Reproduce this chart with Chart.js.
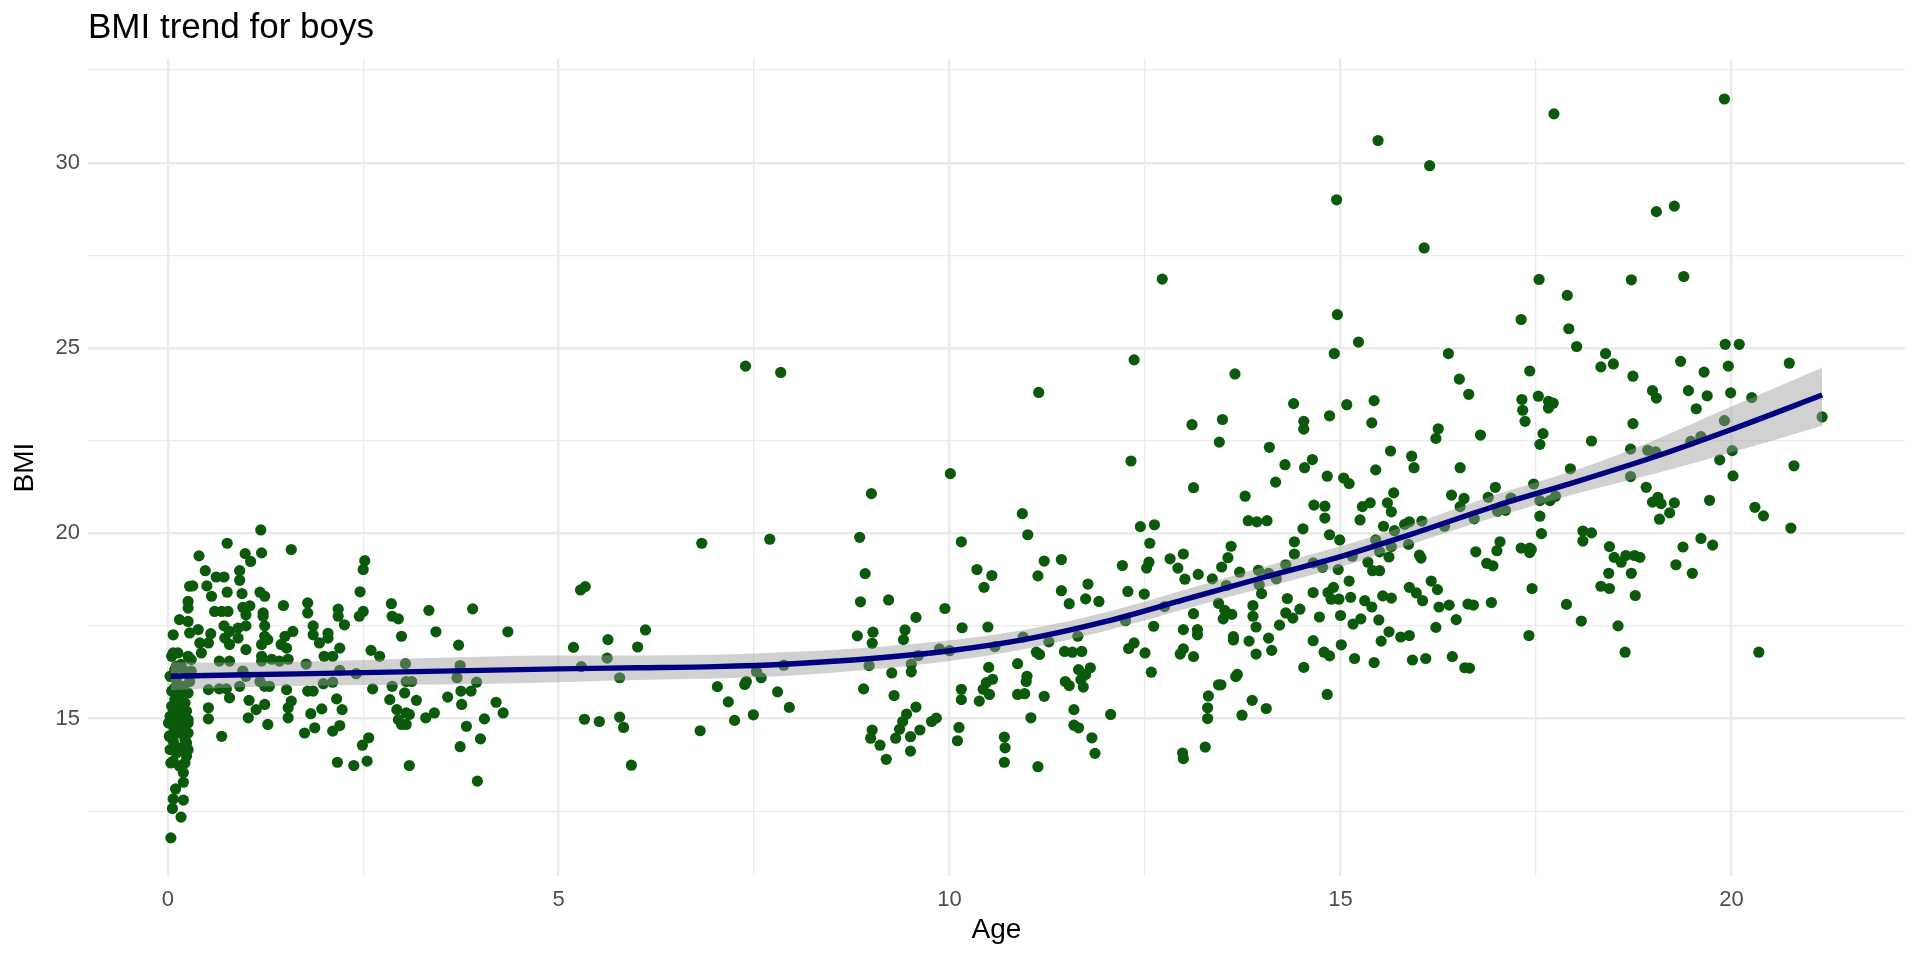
<!DOCTYPE html>
<html>
<head>
<meta charset="utf-8">
<title>BMI trend for boys</title>
<script src="https://cdn.jsdelivr.net/npm/chart.js@4.4.1/dist/chart.umd.min.js"></script>
<style>
  html, body { margin: 0; padding: 0; background: #ffffff; }
  #chart { display: block; }
</style>
</head>
<body>
<canvas id="chart" width="1920" height="960"></canvas>
<script>
// Tick positions (major every 5 / minor every 2.5)
const xTicks = [0, 2.5, 5, 7.5, 10, 12.5, 15, 17.5, 20];
const yTicks = [12.5, 15, 17.5, 20, 22.5, 25, 27.5, 30, 32.5];

const pointsInfants = [
  [0.04,11.78],[0.17,12.34],[0.06,12.57],[0.2,12.80],[0.07,12.83],[0.10,13.10],[0.2,13.28],[0.2,13.54],[0.15,13.72],
  [0.07,13.85],[0.24,13.98],[0.11,14.07],[0.03,14.16],[0.17,14.21],[0.24,14.34],[0.07,14.39],[0.03,14.54],[0.26,14.61],
  [0.13,14.61],[0.07,14.79],[0.26,14.88],[0.17,14.84],[0.03,15.06],[0.09,15.15],[0.2,15.11],[0.26,14.97],[0.05,15.33],
  [0.15,15.29],[0.22,15.42],[0.09,15.51],[0.15,15.65],[0.26,15.69],[0.09,15.83],[0.2,15.87],[0.28,16.0],[0.11,16.05],
  [0.09,16.32],[0.22,16.28],[0.11,16.41],[0.26,16.68],[0.13,16.77],[0.30,16.59],[0.07,17.26],[0.15,17.67],[0.26,17.62],
  [0.26,18.16],[0.26,17.98],[0.28,18.57],[0.02,14.52],[0.22,14.43],[0.11,15.06],[0.24,15.2],[0.04,13.8],[0.22,13.8],
  [0.01,14.88],[0.13,14.79],[0.2,14.66],[0.09,14.25],[0.26,14.16],[0.05,15.74],[0.03,16.14],[0.17,16.46],[0.05,16.68],
  [0.07,16.77],[0.32,18.58],[0.30,16.28],[0.28,17.31],[0.39,17.40]
];

const pointsToddlers = [
  [1.19,20.09],[0.76,19.73],[0.40,19.39],[0.99,19.45],[1.20,19.47],[1.06,19.24],[1.58,19.56],
  [0.48,18.99],[0.92,18.99],[0.62,18.82],[0.72,18.82],[0.92,18.73],[0.50,18.58],
  [0.76,18.41],[0.56,18.30],[0.95,18.37],[1.18,18.41],[1.24,18.30],[1.48,18.05],[1.79,18.12],
  [2.52,19.26],[2.50,19.02],[2.46,18.42],[2.86,18.10],[3.34,17.92],[3.90,17.96],
  [0.60,17.89],[0.69,17.89],[0.77,17.89],[0.96,18.0],[1.05,18.04],[1.0,17.8],[1.22,17.85],[1.22,17.76],
  [1.79,17.85],[2.18,17.95],[2.18,17.76],[2.26,17.53],[2.45,17.76],[2.5,17.89],[2.87,17.76],[2.95,17.69],
  [0.55,17.29],[0.72,17.5],[0.79,17.35],[0.9,17.44],[1.0,17.5],[1.24,17.5],[1.24,17.22],
  [1.86,17.5],[1.86,17.26],[1.60,17.35],[1.50,17.22],[2.05,17.3],[2.05,17.17],[2.99,17.22],[3.43,17.34],[4.35,17.34],
  [0.41,17.04],[0.52,17.04],[0.73,17.17],[0.79,17.0],[0.9,17.17],[1.0,16.86],[1.2,17.0],[1.28,17.13],[1.45,17.0],[1.52,16.9],
  [1.94,17.04],[2.2,16.9],[2.6,16.84],[2.71,16.68],[3.72,16.98],
  [0.43,16.77],[0.66,16.55],[0.79,16.55],[1.2,16.68],[1.2,16.55],[1.33,16.6],[1.43,16.55],[1.54,16.6],[1.77,16.47],
  [2.0,16.68],[2.11,16.68],[2.2,16.3],[2.41,16.21],[3.04,16.48],[3.74,16.43],[3.70,16.1],
  [0.96,16.28],[1.0,16.14],
  [0.52,15.78],[0.66,15.8],[0.75,15.8],[0.79,15.56],[0.92,15.87],[1.18,16.0],[1.24,15.87],[1.3,15.87],[1.52,15.78],
  [1.79,15.74],[1.86,15.74],[1.99,15.94],[2.11,15.98],[2.62,15.8],[2.87,15.87],[3.05,16.0],[3.12,16.0],[3.03,15.69],
  [3.95,15.98],[3.75,15.74],[3.88,15.74],[3.58,15.58],[4.2,15.44],[4.29,15.15],
  [0.52,15.29],[0.52,14.99],[1.04,15.49],[1.13,15.24],[1.24,15.38],[1.03,15.02],[1.28,14.84],
  [1.54,15.29],[1.58,15.47],[1.54,15.02],[1.83,15.13],[1.97,15.26],[2.16,15.53],[2.23,15.24],
  [1.75,14.61],[1.88,14.75],[2.11,14.66],[2.2,14.81],
  [2.84,15.51],[2.93,15.24],[3.05,15.15],[2.99,14.84],[3.05,14.84],[3.18,15.49],[3.09,15.11],[2.95,14.97],
  [3.3,15.02],[3.41,15.15],[3.76,15.38],[3.82,14.79],[4.05,14.99],[4.0,14.45],[3.74,14.24],[0.69,14.52],
  [2.17,13.82],[2.38,13.73],[2.55,13.85],[2.49,14.28],[2.57,14.48],[3.09,13.73],[3.96,13.31]
];

const pointsChildren = [
  [7.39,24.51],[7.84,24.34],[10.01,21.61],[9.0,21.07],[6.83,19.73],[7.70,19.84],[8.85,19.89],[10.15,19.77],
  [10.35,19.02],[10.54,18.86],[10.44,18.54],[8.92,18.91],[8.86,18.15],[9.22,18.2],[9.94,17.97],[9.57,17.73],[10.49,17.47],[10.16,17.45],
  [9.02,17.33],[9.01,17.03],[8.82,17.23],[9.43,17.39],[9.41,17.13],
  [5.28,18.47],[5.34,18.56],[5.19,16.92],[5.63,17.13],[6.11,17.39],[6.01,16.93],[5.62,16.63],[5.29,16.40],[5.78,16.10],
  [7.88,16.44],[8.97,16.43],[9.26,16.23],[9.51,16.26],[9.6,16.7],[9.51,16.47],[9.87,16.88],[10.0,16.83],[10.58,16.94],[10.5,16.38],
  [7.4,16.0],[7.38,15.92],[7.59,16.1],[7.53,16.27],[7.03,15.86],[7.17,15.45],[7.8,15.72],[7.95,15.3],[7.49,15.1],[7.25,14.95],[6.81,14.67],
  [8.9,15.8],[9.29,15.62],[9.57,15.31],[9.45,15.12],[9.4,14.92],[9.36,14.71],[9.31,14.47],[9.5,14.51],[9.5,14.12],[9.62,14.69],
  [9.77,14.92],[9.83,15.01],[9.01,14.69],[8.99,14.47],[9.11,14.28],[9.19,13.90],
  [10.15,15.79],[10.15,15.51],[10.38,15.47],[10.51,15.65],[10.43,15.79],[10.47,15.97],[10.55,16.06],[10.12,14.76],[10.1,14.4],
  [5.33,14.98],[5.52,14.92],[5.78,15.04],[5.83,14.76],[5.93,13.74]
];

const pointsPreteens = [
  [12.36,24.68],[11.14,23.8],[12.32,21.95],[10.93,20.53],[11.0,19.96],[12.44,20.18],[12.62,20.23],[12.56,19.73],[12.55,19.22],[12.52,19.06],
  [12.21,19.13],[11.21,19.25],[11.43,19.29],[11.13,18.85],[11.43,18.45],[11.53,18.1],[11.77,18.63],[11.74,18.23],[11.91,18.16],
  [12.28,18.43],[12.49,18.36],[12.61,17.49],[12.25,17.64],[10.94,17.2],[11.27,17.07],[11.64,17.22],[11.11,16.79],[11.15,16.73],
  [11.47,16.81],[11.57,16.79],[11.69,16.81],[12.29,16.89],[12.36,17.04],[12.5,16.77],[12.58,16.25],
  [10.87,16.48],[10.99,16.14],[10.98,16.0],[10.87,15.65],[10.96,15.67],[11.21,15.6],[11.04,15.02],
  [11.48,16.0],[11.53,15.89],[11.65,16.32],[11.74,16.19],[11.8,16.37],[11.68,16.05],[11.71,15.85],
  [11.59,15.24],[11.59,14.82],[11.65,14.75],[11.82,14.48],[11.86,14.06],[12.06,15.11],
  [10.7,14.5],[10.71,14.21],[10.7,13.82],[11.13,13.7],[12.72,26.86]
];

const pointsEarlyTeens = [
  [14.96,25.9],[14.92,24.85],[13.65,24.3],[14.4,23.5],[13.1,22.93],[13.49,23.07],[13.45,22.46],[14.53,23.02],[14.53,22.81],[14.86,23.17],
  [14.09,22.32],[14.29,21.85],[14.54,21.77],[14.64,21.99],[14.17,21.38],[14.83,21.54],[13.12,21.23],[13.78,21.0],
  [13.82,20.34],[13.93,20.31],[14.06,20.34],[14.66,20.76],[14.8,20.73],[14.8,20.41],[14.52,20.12],
  [12.82,19.31],[12.99,19.44],[12.92,19.06],[13.01,18.76],[13.18,18.89],[13.36,18.77],[13.48,19.09],[13.56,19.34],[13.6,19.65],
  [13.71,18.95],[13.95,19.0],[14.08,18.92],[14.41,19.77],[14.41,19.44],[14.3,19.15],[14.18,18.77],[14.65,19.2],
  [13.54,18.59],[13.96,18.61],[13.99,18.37],[12.75,18.02],[13.12,17.83],[13.44,18.11],[13.52,17.92],[13.5,17.69],[13.61,17.81],
  [13.88,18.05],[13.88,17.76],[13.92,17.47],[14.32,18.24],[14.3,17.85],[14.39,17.71],[14.48,17.95],[14.22,17.52],[14.65,18.4],
  [12.99,17.4],[13.17,17.4],[13.17,17.26],[13.12,16.67],[12.95,16.74],[12.99,16.88],[13.63,17.21],[13.63,17.12],[13.83,17.09],
  [13.92,16.74],[14.08,17.17],[14.12,16.84],[14.65,17.1],[14.53,16.38],[13.66,16.13],[13.68,16.19],[13.47,15.91],[13.44,15.91],
  [13.31,15.61],[13.3,15.29],[13.3,15.0],[13.74,15.09],[13.87,15.49],[14.05,15.27],[14.83,15.65],[13.27,14.23],[12.98,14.07],[12.99,13.92]
];

const pointsMidTeens = [
  [15.23,25.16],[16.38,24.85],[16.52,24.16],[16.64,23.75],[15.08,23.47],[15.43,23.58],[15.4,22.98],[16.25,22.82],[16.22,22.56],
  [15.64,22.22],[15.91,22.08],[15.94,21.77],[16.53,21.77],[15.45,21.71],[15.04,21.49],[15.11,21.34],[15.68,21.09],
  [16.42,21.03],[16.58,20.94],[16.53,20.72],[15.28,20.72],[15.38,20.82],[15.25,20.36],[15.6,20.82],[15.65,20.58],
  [14.86,19.96],[14.99,19.82],[15.55,20.19],[15.69,20.07],[15.82,20.24],[15.88,20.31],[16.04,20.33],[16.33,20.19],
  [15.45,19.82],[15.65,19.64],[15.87,19.7],[15.5,19.5],[15.62,19.36],[16.01,19.41],[16.03,19.33],[15.15,19.38],
  [15.35,19.22],[15.41,18.99],[15.5,18.99],[14.77,19.08],[14.97,19.02],[15.11,18.71],[16.16,18.71],[16.24,18.48],
  [15.88,18.54],[15.97,18.39],[16.05,18.18],[14.91,18.54],[14.84,18.4],[14.88,18.22],[14.98,18.22],[15.13,18.27],
  [15.31,18.18],[15.4,18.01],[15.54,18.31],[15.65,18.25],[16.26,18.01],[16.39,18.06],[16.63,18.09],
  [14.73,17.74],[15.0,17.78],[15.16,17.55],[15.26,17.69],[15.49,17.66],[16.48,17.67],[16.22,17.46],[15.62,17.34],[15.52,17.09],
  [15.77,17.2],[15.88,17.24],[15.01,16.99],[14.79,16.79],[14.86,16.69],[15.18,16.62],[15.43,16.51],[15.92,16.58],[16.09,16.62],
  [16.43,16.67],[16.59,16.37],
  [15.48,30.6],[14.95,29.0],[16.14,29.92],[16.07,27.7]
];

const pointsLateTeens = [
  [17.73,31.32],[17.54,26.85],[17.9,26.42],[17.31,25.77],[17.92,25.52],[18.02,25.04],[17.42,24.38],
  [18.39,24.85],[18.33,24.49],[18.49,24.57],
  [17.32,23.61],[17.33,23.32],[17.36,23.02],[17.53,23.7],[17.66,23.56],[17.72,23.51],[17.66,23.38],
  [16.79,22.65],[17.59,22.69],[17.55,22.4],[18.21,22.49],[17.94,21.74],[16.98,21.24],[16.89,20.97],[17.47,21.33],[17.18,20.95],
  [16.71,20.39],[17.01,20.59],[17.11,20.62],[17.55,20.88],[17.68,20.88],[17.75,21.0],[17.55,20.46],[17.57,19.99],
  [18.1,20.06],[18.21,20.01],[18.1,19.79],[16.73,19.5],[17.04,19.77],[17.0,19.53],[17.31,19.6],[17.42,19.6],[17.42,19.48],[17.44,19.56],
  [16.87,19.19],[16.95,19.12],[18.44,19.64],[18.43,18.92],[18.33,18.57],[18.44,18.51],[17.45,18.51],[16.93,18.13],[16.7,18.06],
  [17.89,18.08],[18.08,17.63],[17.41,17.24],[18.55,17.5],[16.65,16.36]
];

const pointsAdults = [
  [19.91,31.72],[19.04,28.68],[19.27,28.83],[18.72,26.84],[19.39,26.93],[19.92,25.1],[20.1,25.1],[19.35,24.64],[20.74,24.59],[19.96,24.51],
  [18.74,24.24],[19.65,24.35],[18.99,23.85],[19.04,23.65],[19.45,23.85],[19.69,23.71],[19.99,23.79],[19.55,23.36],[20.26,23.66],
  [18.74,22.96],[21.16,23.14],[19.91,23.04],[18.71,22.27],[18.93,22.24],[19.03,22.2],[19.48,22.48],[19.61,22.61],[19.85,21.98],
  [20.01,22.23],[20.02,21.55],[20.8,21.82],[18.71,21.53],[18.91,21.24],[18.99,20.84],[19.06,20.97],[19.1,20.8],[19.27,20.82],
  [19.21,20.55],[19.08,20.38],[19.72,20.89],[20.3,20.7],[20.41,20.47],[20.76,20.14],[18.5,19.35],[18.59,19.22],[18.65,19.4],
  [18.76,19.4],[18.83,19.35],[18.72,18.92],[18.77,18.32],[19.38,19.63],[19.29,19.15],[19.5,18.92],[19.61,19.86],[19.76,19.68],
  [18.64,16.79],[20.35,16.79]
];

// Smoothed trend (loess) and its confidence band
const smoothAge   = [0.04, 1, 2, 3, 4, 5, 6, 7, 8, 9, 10, 11, 12, 13, 14, 15, 16, 17, 18, 19, 20, 21.16];
const smoothBmi   = [16.14, 16.18, 16.22, 16.26, 16.30, 16.34, 16.37, 16.40, 16.48, 16.62, 16.83, 17.15, 17.62, 18.21, 18.80, 19.37, 20.04, 20.75, 21.38, 22.05, 22.80, 23.73];
const bandUpper   = [16.52, 16.51, 16.55, 16.61, 16.67, 16.70, 16.70, 16.72, 16.80, 16.92, 17.11, 17.41, 17.87, 18.47, 19.08, 19.65, 20.31, 21.05, 21.70, 22.50, 23.42, 24.47];
const bandLower   = [15.76, 15.85, 15.89, 15.91, 15.93, 15.98, 16.04, 16.08, 16.16, 16.32, 16.55, 16.89, 17.37, 17.95, 18.52, 19.09, 19.77, 20.45, 21.06, 21.60, 22.18, 22.90];

const FONT = '"Liberation Sans", Arial, Helvetica, sans-serif';

const allPoints = [].concat(pointsInfants, pointsToddlers, pointsChildren, pointsPreteens,
  pointsEarlyTeens, pointsMidTeens, pointsLateTeens, pointsAdults);

function toXY(xs, ys) {
  return xs.map((x, i) => ({ x: x, y: ys[i] }));
}

function fixedTicks(values) {
  return function(scale) {
    scale.ticks = values.map(v => ({ value: v }));
  };
}

function majorEvery(step) {
  return function(ctx) {
    return ctx.tick && ctx.tick.value % step === 0 ? 2.4 : 1.3;
  };
}

new Chart(document.getElementById('chart'), {
  type: 'scatter',
  data: {
    datasets: [
      {
        label: 'BMI',
        data: allPoints.map(p => ({ x: p[0], y: p[1] })),
        pointRadius: 5.6,
        pointHoverRadius: 5.6,
        pointBackgroundColor: '#0b5a0b',
        pointBorderWidth: 0,
        order: 3
      },
      {
        type: 'line',
        label: 'lower',
        data: toXY(smoothAge, bandLower),
        borderWidth: 0,
        pointRadius: 0,
        fill: false,
        cubicInterpolationMode: 'monotone',
        order: 2
      },
      {
        type: 'line',
        label: 'upper',
        data: toXY(smoothAge, bandUpper),
        borderWidth: 0,
        pointRadius: 0,
        fill: '-1',
        backgroundColor: 'rgba(153,153,153,0.45)',
        cubicInterpolationMode: 'monotone',
        order: 2
      },
      {
        type: 'line',
        label: 'trend',
        data: toXY(smoothAge, smoothBmi),
        borderColor: '#000080',
        borderWidth: 5.4,
        pointRadius: 0,
        fill: false,
        cubicInterpolationMode: 'monotone',
        order: 1
      }
    ]
  },
  options: {
    responsive: false,
    devicePixelRatio: 1,
    animation: false,
    layout: { padding: { left: 0, right: 15, top: 0, bottom: 0 } },
    plugins: {
      legend: { display: false },
      tooltip: { enabled: false },
      title: {
        display: true,
        text: 'BMI trend for boys',
        align: 'start',
        fullSize: false,
        color: '#000000',
        font: { family: FONT, size: 35, weight: 'normal' },
        padding: { top: 7, bottom: 10 }
      }
    },
    scales: {
      x: {
        type: 'linear',
        min: -1.02,
        max: 22.22,
        afterBuildTicks: fixedTicks(xTicks),
        afterFit: function(scale) { scale.height = 84; },
        border: { display: false },
        grid: { color: '#EBEBEB', lineWidth: majorEvery(5), drawTicks: false },
        ticks: {
          autoSkip: false,
          maxRotation: 0,
          padding: 11,
          color: '#4D4D4D',
          font: { family: FONT, size: 22 },
          callback: v => (v % 5 === 0 ? String(v) : '')
        },
        title: {
          display: true,
          text: 'Age',
          color: '#000000',
          font: { family: FONT, size: 28 },
          padding: { top: 0, bottom: 13 }
        }
      },
      y: {
        type: 'linear',
        min: 10.75,
        max: 32.8,
        afterBuildTicks: fixedTicks(yTicks),
        afterFit: function(scale) { scale.width = 88; },
        border: { display: false },
        grid: { color: '#EBEBEB', lineWidth: majorEvery(5), drawTicks: false },
        ticks: {
          autoSkip: false,
          padding: 8,
          color: '#4D4D4D',
          font: { family: FONT, size: 22 },
          callback: v => (v % 5 === 0 ? String(v) : '')
        },
        title: {
          display: true,
          text: 'BMI',
          color: '#000000',
          font: { family: FONT, size: 28 },
          padding: { top: 8, bottom: 0 }
        }
      }
    }
  }
});
</script>
</body>
</html>
